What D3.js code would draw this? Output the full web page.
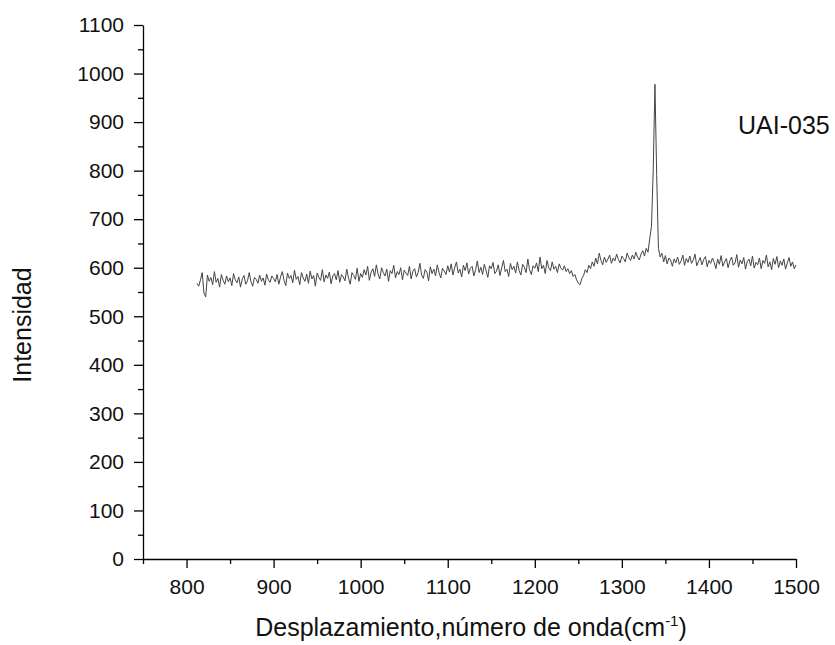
<!DOCTYPE html>
<html>
<head>
    <meta charset="utf-8">
    <title>Espectro Raman UAI-035</title>
    <script src="https://cdn.jsdelivr.net/npm/d3@7"></script>
    <style>
        body { margin: 0; background: white; }
        svg { display: block; font-family: "Liberation Sans", Arial, sans-serif; }
        .axis path, .axis line { stroke: #000; stroke-width: 1.3; }
        .axis text { font-size: 21px; fill: #111; font-family: "Liberation Sans", Arial, sans-serif; }
    </style>
</head>
<body>
<script>
    // espectro : x empieza en 812 cm-1, un punto cada 2 cm-1
    var waveStart = 812;
    var waveStep = 2;
    var intensidad = [
        // 812 - 900
        568, 562, 575, 590, 548, 540, 585, 572, 580, 565, 592, 570, 578, 560, 586, 574, 566, 583, 571, 579,
        563, 588, 575, 569, 581, 560, 577, 584, 566, 573, 590, 571, 562, 580, 576, 568, 585, 572, 579, 564,
        587, 575, 570, 583, 578,
        // 902 - 1000
        571, 586, 566, 581, 592, 574, 563, 589, 578, 584, 569, 595, 576, 582, 565, 590, 579, 572, 587, 568,
        593, 577, 584, 562, 589, 580, 574, 596, 571, 585, 578, 591, 567, 583, 588, 575, 594, 570, 586, 581,
        573, 597, 579, 566, 590, 584, 576, 599, 572, 588,
        // 1002 - 1100
        580, 596, 585, 603, 574, 591, 598, 582, 606, 587, 577, 600, 590, 583, 597, 572, 594, 588, 605, 579,
        592, 586, 600, 575, 595, 589, 584, 603, 577, 593, 598, 581, 590, 609, 585, 578, 596, 591, 573, 602,
        588, 597, 583, 606, 590, 579, 599, 593, 586, 604,
        // 1102 - 1200
        591, 608, 585, 600, 612, 589, 597, 581, 605, 594, 610, 587, 599, 603, 583, 596, 614, 590, 601, 586,
        607, 595, 580, 604, 598, 611, 588, 593, 606, 584, 600, 615, 592, 597, 582, 609, 596, 603, 589, 612,
        594, 585, 607, 601, 590, 618, 596, 586, 604, 599,
        // 1202 - 1250
        610, 592, 622, 598, 605, 588, 615, 600, 594, 612, 597, 603, 590, 608, 599, 595, 604, 592, 598, 588,
        594, 582, 586, 575, 568,
        // 1252 - 1330
        565, 578, 584, 596, 590, 605, 598, 612, 603, 620, 608, 630, 615, 606, 622, 611, 618, 626, 609, 620,
        614, 628, 617, 610, 624, 619, 612, 630, 621, 615, 626, 618, 632, 622, 616, 628, 635, 624, 640, 632,
        // 1332 - 1346 (pico)
        660, 685, 800, 978, 790, 640, 622, 630,
        // 1348 - 1500
        612, 625, 608, 620, 616, 603, 618, 610, 622, 607, 614, 626, 605, 619, 611, 624, 609, 616, 628, 604,
        613, 621, 606, 617, 623, 602, 615, 609, 620, 611, 598, 618, 607, 625, 603, 612, 619, 600, 614, 622,
        605, 610, 627, 601, 616, 608, 621, 597, 613, 618, 604, 624, 599, 611, 606, 620, 598, 615, 609, 626,
        602, 612, 596, 619, 607, 623, 600, 614, 605, 618, 597, 610, 621, 603, 612, 598, 606
    ];
    var xTicks = [800, 900, 1000, 1100, 1200, 1300, 1400, 1500];
    var yTicks = [0, 100, 200, 300, 400, 500, 600, 700, 800, 900, 1000, 1100];
    var etiqueta = "UAI-035";

    var width = 835;
    var height = 645;
    var margin = {top: 25, right: 39, bottom: 86, left: 143};

    var svg = d3.select("body")
        .append("svg")
        .attr("width", width)
        .attr("height", height);

    var x = d3.scaleLinear().domain([750, 1500]).range([margin.left, width - margin.right]);
    var y = d3.scaleLinear().domain([0, 1100]).range([height - margin.bottom, margin.top]);

    // ticks menores (cada 50)
    var xMinor = d3.range(750, 1501, 50).filter(function(v) { return v % 100 != 0; });
    var yMinor = d3.range(50, 1100, 100);

    svg.append("g")
        .attr("class", "axis")
        .attr("transform", "translate(0," + y(0) + ")")
        .call(d3.axisBottom(x).tickValues(xMinor).tickSize(5).tickFormat(""))
        .select(".domain").remove();
    svg.append("g")
        .attr("class", "axis")
        .attr("transform", "translate(" + x(750) + ",0)")
        .call(d3.axisLeft(y).tickValues(yMinor).tickSize(5).tickFormat(""))
        .select(".domain").remove();

    svg.append("g")
        .attr("class", "axis")
        .attr("transform", "translate(0," + y(0) + ")")
        .call(d3.axisBottom(x).tickValues(xTicks).tickSize(9).tickSizeOuter(0).tickPadding(11).tickFormat(d3.format("d")));
    svg.append("g")
        .attr("class", "axis")
        .attr("transform", "translate(" + x(750) + ",0)")
        .call(d3.axisLeft(y).tickValues(yTicks).tickSize(9).tickSizeOuter(0).tickPadding(10).tickFormat(d3.format("d")));

    var linea = d3.line()
        .x(function(d, i) { return x(waveStart + i * waveStep); })
        .y(function(d) { return y(d); });

    svg.append("path")
        .datum(intensidad)
        .attr("fill", "none")
        .attr("stroke", "#444")
        .attr("stroke-width", 1)
        .attr("d", linea);

    svg.append("text")
        .attr("x", 738)
        .attr("y", 134)
        .attr("font-size", 25)
        .attr("fill", "#111")
        .text(etiqueta);

    var tx = svg.append("text")
        .attr("x", 471)
        .attr("y", 636)
        .attr("text-anchor", "middle")
        .attr("font-size", 25)
        .attr("fill", "#111");
    tx.append("tspan").text("Desplazamiento,número de onda(cm");
    tx.append("tspan").attr("dy", -10).attr("font-size", 15).text("-1");
    tx.append("tspan").attr("dy", 10).text(")");

    svg.append("text")
        .attr("transform", "translate(31,325) rotate(-90)")
        .attr("text-anchor", "middle")
        .attr("font-size", 25)
        .attr("fill", "#111")
        .text("Intensidad");
</script>
</body>
</html>
